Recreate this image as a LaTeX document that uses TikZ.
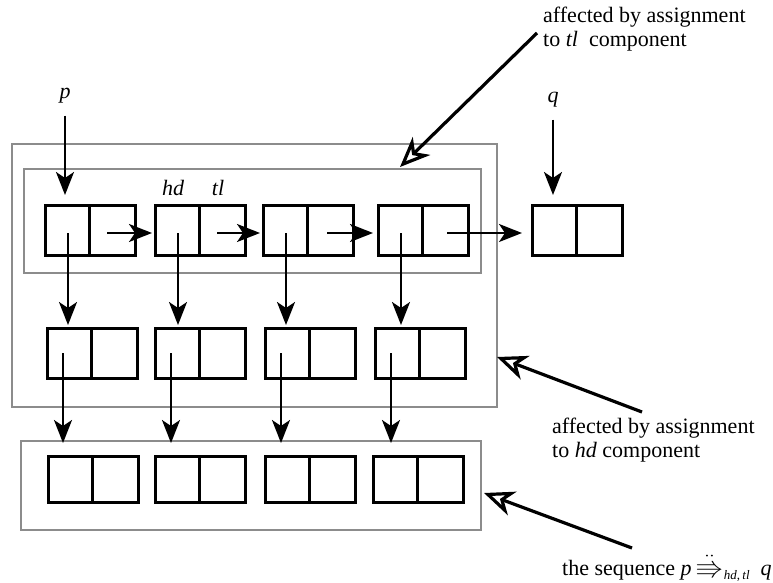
\documentclass[tikz,border=0pt]{standalone}
\usepackage{amssymb}
\usepackage{graphicx}
\usepackage{fontspec}
\setmainfont{Liberation Serif}
\usetikzlibrary{arrows.meta}

% one list cell = a left (hd) half and a right (tl) half
\newcommand\listcell[4]{%
  \node[half, minimum width=44pt, minimum height=#4, anchor=north west] (#1l) at (#2,#3) {};
  \node[half, minimum width=46pt, minimum height=#4, anchor=west] (#1r) at (#1l.east) {};
}

\begin{document}
\begin{tikzpicture}[x=1pt, y=-1pt,
  half/.style={draw, line width=3pt, inner sep=0pt, outer sep=0pt},
  frame/.style={draw=black!45, line width=2.4pt, inner sep=0pt, outer sep=0pt},
  ptr/.style={line width=2.4pt, -{Stealth[length=23pt, width=18pt, inset=6pt]}},
  hollow/.style={line width=3.2pt, -{Stealth[length=30pt, width=25pt, inset=9pt, fill=white]}},
  lbl/.style={inner sep=0pt, font=\fontsize{22}{24}\selectfont\itshape},
  note/.style={inner sep=0pt, align=left, anchor=west, font=\fontsize{22}{24}\selectfont}]
\useasboundingbox (0,0) rectangle (773,583);

% grey frames round the groups of cells
\node[frame, minimum width=485pt, minimum height=263pt] (outer) at (254.5,275.5) {};
\node[frame, minimum width=457pt, minimum height=104pt] (inner) at (252.5,221) {};
\node[frame, minimum width=460pt, minimum height=89pt] (seqframe) at (251,485.5) {};

% the spine of the list and the cell q
\listcell{t1}{45}{205}{50pt}
\listcell{t2}{155}{205}{50pt}
\listcell{t3}{263}{205}{50pt}
\listcell{t4}{378}{205}{50pt}
\listcell{tq}{532}{205}{50pt}

% cells reached through hd
\listcell{m1}{47}{328}{50pt}
\listcell{m2}{155}{328}{50pt}
\listcell{m3}{265}{328}{50pt}
\listcell{m4}{375}{328}{50pt}

% cells reached through hd.hd
\listcell{b1}{48}{456}{46pt}
\listcell{b2}{155}{456}{46pt}
\listcell{b3}{265}{456}{46pt}
\listcell{b4}{373}{456}{46pt}

% variable names and field names
\node[lbl] (p) at (65,96) {p};
\node[lbl] (q) at (553,100) {q};
\node[lbl] (hd) at (173,188) {hd};
\node[lbl] (tl) at (218,188) {tl};

\draw[ptr, shorten <=12pt, shorten >=10pt] (p.south) -- (p.south |- t1l.north);
\draw[ptr, shorten <=12pt, shorten >=10pt] (q.south) -- (q.south |- tql.north);

% tl pointers
\draw[ptr, shorten >=3pt] ([xshift=-5pt, yshift=-3pt]t1r.center) -- ([yshift=-3pt]t2l.west);
\draw[ptr, shorten >=3pt] ([xshift=-5pt, yshift=-3pt]t2r.center) -- ([yshift=-3pt]t3l.west);
\draw[ptr, shorten >=5pt] ([xshift=-3pt, yshift=-3pt]t3r.center) -- ([yshift=-3pt]t4l.west);
\draw[ptr, shorten >=10pt] ([xshift=2pt, yshift=-3pt]t4r.center) -- ([yshift=-3pt]tql.west);

% hd pointers of the spine
\foreach \i in {1,2,3,4}{
  \draw[ptr] ([xshift=1pt, yshift=-3pt]t\i l.center) -- ([xshift=1pt, yshift=3pt]t\i l.center |- m\i l.north);
}
% hd pointers of the second row
\foreach \i in {1,2,3,4}{
  \draw[ptr] ([xshift=-6pt]m\i l.center) -- ([xshift=-6pt, yshift=-2pt]m\i l.center |- seqframe.north);
}

% annotations
\node[note] (tlnote) at (543,29) {affected by assignment\\to \textit{tl}\ \ component};
\node[note] (hdnote) at (552,440) {affected by assignment\\to \textit{hd} component};
\node[note, anchor=base west] (seqnote) at (562,575) {the sequence \textit{p}\,\scalebox{1.3}[1.05]{$\ddot{\Rrightarrow}$}\raisebox{-4pt}{\fontsize{13}{13}\selectfont\textit{hd},\,\textit{tl}}\ \ \textit{q}};

\coordinate (tltip) at (400,167);
\coordinate (hdtail) at (642,412);
\coordinate (hdtip) at (497,357);
\coordinate (seqtail) at (632,548);
\coordinate (seqtip) at (484,493);

\draw[hollow] ([xshift=-6pt, yshift=-4pt]tlnote.west) -- (tltip);
\draw[hollow] (hdtail) -- (hdtip);
\draw[hollow] (seqtail) -- (seqtip);
\end{tikzpicture}
\end{document}
